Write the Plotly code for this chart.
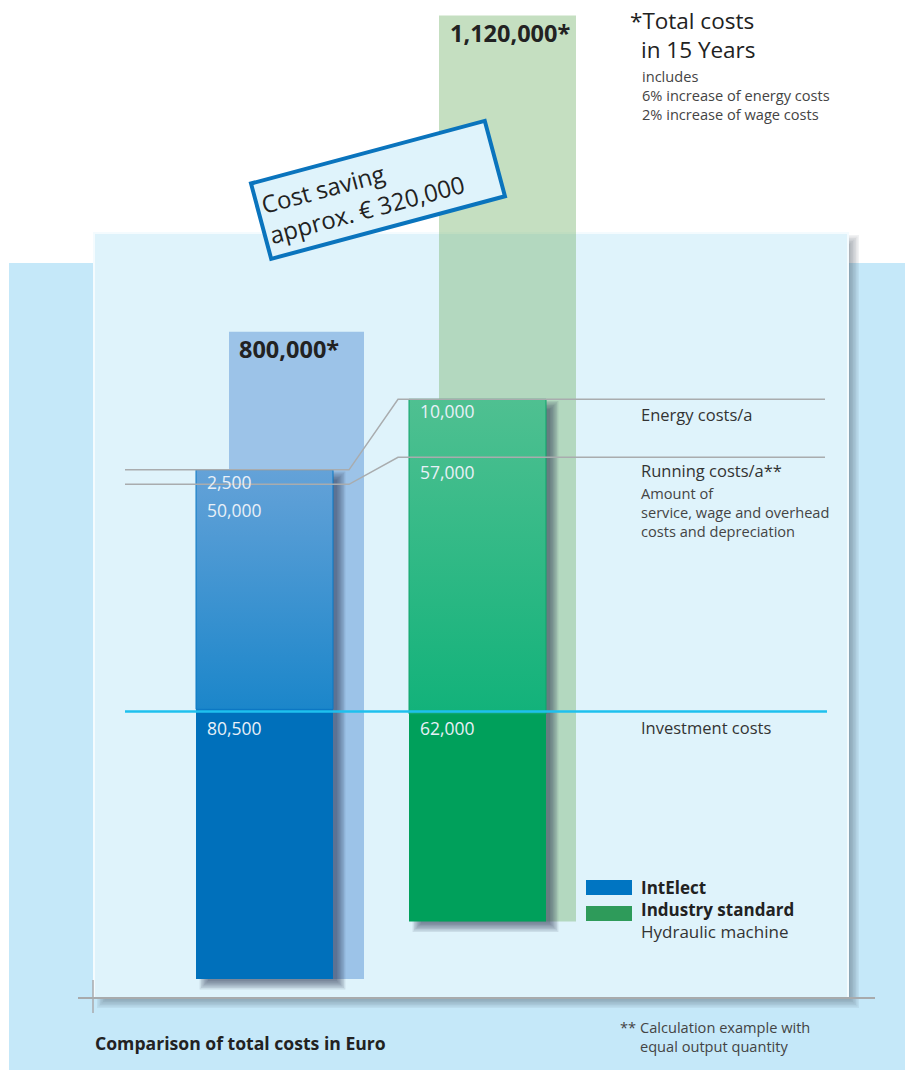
import plotly.graph_objects as go

# ---------------- data ----------------
categories = ["IntElect", "Industry standard"]
total_costs = [800000, 1120000]          # total costs in 15 years
energy_costs = [2500, 10000]             # energy costs per year
running_costs = [50000, 57000]           # running costs per year
investment_costs = [80500, 62000]        # investment costs

# ---------------- layout constants ----------------
W, H = 905, 1070
FONT = "Open Sans"
PX_TOTAL = 0.000809   # px per euro for the total bars
PX_INV = 0.00335      # px per euro for investment segment
PX_RUN = 0.0045       # px per euro for running segment
PX_ENERGY = 0.0058    # px per euro for energy segment

solid_x0 = [196, 409]
total_x0 = [228, 439]
bar_w = 137
base_py = [979, 921.5]

solid_low = ["#0070bb", "#00a05b"]
grad_top = ["#64a2d8", "#4fc091"]
grad_bottom = ["#1b86ca", "#12b27a"]
edge_col = ["#0a78c4", "#0ea36a"]
total_col = ["#9cc3e8", "rgba(122,182,113,0.44)"]
swatch_col = ["#0075c2", "#2e9b5a"]


def Y(py):
    return H - py


fig = go.Figure()

# ---------- light "total" bars (subplot 1) ----------
fig.add_trace(go.Bar(
    x=[x0 + bar_w / 2 for x0 in total_x0],
    y=[v * PX_TOTAL for v in total_costs],
    base=[Y(b) for b in base_py],
    width=[135, 137],
    marker=dict(color=total_col, line=dict(width=0)),
    hoverinfo="skip", showlegend=False, xaxis="x", yaxis="y",
))

# segment geometry (pixel coords, y down)
inv_top, run_top, en_top = [], [], []
for i in range(2):
    it = base_py[i] - investment_costs[i] * PX_INV
    rt = it - running_costs[i] * PX_RUN
    et = rt - energy_costs[i] * PX_ENERGY
    inv_top.append(it); run_top.append(rt); en_top.append(et)

# ---------- drop shadows of solid bars (subplot 1, above light bars) ----------
for i in range(2):
    x0, x1 = solid_x0[i] + 8, solid_x0[i] + bar_w + 8
    t, b = en_top[i] + 6, base_py[i] + 6
    for k in range(7):
        e = -4 + k * 1.4
        fig.add_trace(go.Scatter(
            x=[x0 - e, x1 + e, x1 + e, x0 - e, x0 - e],
            y=[Y(b + e), Y(b + e), Y(t - e), Y(t - e), Y(b + e)],
            mode="lines", fill="toself", line=dict(width=0),
            fillcolor="rgba(45,58,78,0.11)", hoverinfo="skip",
            showlegend=False, xaxis="x", yaxis="y",
        ))

# ---------- solid stacked bars (subplot 2) ----------
xc = [x0 + bar_w / 2 for x0 in solid_x0]
fig.add_trace(go.Bar(
    x=xc, y=[v * PX_INV for v in investment_costs], base=[Y(b) for b in base_py],
    width=bar_w, marker=dict(color=solid_low, line=dict(width=0)),
    name="Investment costs", hoverinfo="skip", showlegend=False, xaxis="x2", yaxis="y2",
))
fig.add_trace(go.Bar(
    x=xc, y=[v * PX_RUN for v in running_costs], base=[Y(b) for b in inv_top],
    width=bar_w, marker=dict(color=grad_bottom, line=dict(width=0)),
    name="Running costs/a", hoverinfo="skip", showlegend=False, xaxis="x2", yaxis="y2",
))
fig.add_trace(go.Bar(
    x=xc, y=[v * PX_ENERGY for v in energy_costs], base=[Y(b) for b in run_top],
    width=bar_w, marker=dict(color=grad_top, line=dict(width=0)),
    name="Energy costs/a", hoverinfo="skip", showlegend=False, xaxis="x2", yaxis="y2",
))
# gradient overlay on running + energy segments
for i in range(2):
    x0, x1 = solid_x0[i], solid_x0[i] + bar_w
    yb, yt = Y(inv_top[i]), Y(en_top[i])
    fig.add_trace(go.Scatter(
        x=[x0, x1, x1, x0, x0], y=[yb, yb, yt, yt, yb],
        mode="lines", fill="toself", line=dict(width=1, color=edge_col[i]),
        fillgradient=dict(type="vertical",
                          colorscale=[[0, grad_bottom[i]], [1, grad_top[i]]]),
        hoverinfo="skip", showlegend=False, xaxis="x2", yaxis="y2",
    ))

# ---------------- shapes ----------------
shapes = []
# outer light-blue background
shapes.append(dict(type="rect", xref="x", yref="y", x0=9, x1=W, y0=Y(263), y1=Y(H + 5),
                   fillcolor="#c5e8f9", line=dict(width=0), layer="below"))
# panel shadow
for k in range(7):
    e = -4 + k * 1.5
    shapes.append(dict(type="rect", xref="x", yref="y",
                       x0=95 + 7 - e, x1=847 + 7 + e, y0=Y(997 + 6 + e), y1=Y(234 + 6 - e),
                       fillcolor="rgba(60,70,85,0.07)", line=dict(width=0), layer="below"))
# panel (with thin white edge)
shapes.append(dict(type="rect", xref="x", yref="y", x0=93, x1=849, y0=Y(998), y1=Y(232),
                   fillcolor="#f4fbfe", line=dict(width=0), layer="below"))
shapes.append(dict(type="rect", xref="x", yref="y", x0=95, x1=847, y0=Y(997), y1=Y(234),
                   fillcolor="#dff3fb", line=dict(width=0), layer="below"))

# grey leader lines (energy top, energy/running boundary)
lx_a, lx_b = total_x0[0] + 135 - 14, solid_x0[1] - 11
for tb, tg in [(en_top[0], en_top[1]), (run_top[0], run_top[1])]:
    path = (f"M 125,{Y(tb)} L {lx_a},{Y(tb)} L {lx_b},{Y(tg)} L 825,{Y(tg)}")
    shapes.append(dict(type="path", xref="x", yref="y", path=path,
                       line=dict(color="#a9acae", width=1.5), layer="above"))

# cyan investment line
cyan_py = (inv_top[0] + inv_top[1]) / 2
shapes.append(dict(type="line", xref="x", yref="y", x0=125, x1=827, y0=Y(cyan_py), y1=Y(cyan_py),
                   line=dict(color="#1ec0ee", width=2.5), layer="above"))

# crosshair at panel bottom-left
shapes.append(dict(type="line", xref="x", yref="y", x0=78, x1=875, y0=Y(998), y1=Y(998),
                   line=dict(color="#a8aaac", width=2), layer="above"))
shapes.append(dict(type="line", xref="x", yref="y", x0=93, x1=93, y0=Y(980), y1=Y(1013),
                   line=dict(color="#a8aaac", width=1.5), layer="above"))

# legend swatches
for i, (t, b) in enumerate([(880, 895), (906, 921)]):
    shapes.append(dict(type="rect", xref="x", yref="y", x0=586, x1=632, y0=Y(b), y1=Y(t),
                       fillcolor=swatch_col[i], line=dict(width=0), layer="above"))

# ---------------- annotations ----------------
ann = []
DX = -2.5  # compensate annotation inner padding


def txt(x, py, s, size=16, color="#333333", bold=False, anchor="left"):
    if bold:
        s = f"<b>{s}</b>"
    ann.append(dict(x=x + DX, y=Y(py), xref="x", yref="y", text=s, showarrow=False,
                    xanchor=anchor, yanchor="middle", align="left",
                    font=dict(family=FONT, size=size, color=color)))


def fmt(v):
    return f"{v:,}"


# totals
for i in range(2):
    top_py = base_py[i] - total_costs[i] * PX_TOTAL
    txt(total_x0[i] + 11, top_py + 17.5, fmt(total_costs[i]) + "*", size=23.5, color="#222222", bold=True)

# values inside bars
val_col = "#e8f0f8"
for i in range(2):
    ey = en_top[i] + 12
    ry = max(run_top[i] + 15, ey + 28)
    txt(solid_x0[i] + 11, ey, fmt(energy_costs[i]), size=17.5, color=val_col)
    txt(solid_x0[i] + 11, ry, fmt(running_costs[i]), size=17.5, color=val_col)
    txt(solid_x0[i] + 11, cyan_py + 16, fmt(investment_costs[i]), size=17.5, color=val_col)
    if i == 1:
        txt(641, ey + 3, "Energy costs/a", size=16.5)
        txt(641, ry - 2, "Running costs/a**", size=16.5)
        txt(641, cyan_py + 16, "Investment costs", size=16.5)

SMALL = 14.6
txt(641, 511.5, "Amount of<br>service, wage and overhead<br>costs and depreciation",
    size=SMALL, color="#444444")

# top-right note
txt(630, 20, "*Total costs", size=22.5, color="#222222")
txt(641, 49, "in 15 Years", size=22.5, color="#222222")
txt(642, 94.5, "includes<br>6% increase of energy costs<br>2% increase of wage costs",
    size=SMALL, color="#444444")

# legend texts (one block)
txt(641, 909.5,
    f"<b>{categories[0]}</b><br><b>{categories[1]}</b><br>"
    "<span style='color:#333333'>Hydraulic machine</span>",
    size=17, color="#222222")

# footer
txt(95, 1043, "Comparison of total costs in Euro", size=17.6, color="#222222", bold=True)
txt(620, 1027, "**", size=SMALL, color="#444444")
txt(640, 1036, "Calculation example with<br>equal output quantity", size=SMALL, color="#444444")

# rotated cost-saving box
saving = total_costs[1] - total_costs[0]
ann.append(dict(x=377.5, y=Y(190), xref="x", yref="y",
                text=f"Cost saving<br>approx. € {saving:,}", showarrow=False,
                xanchor="center", yanchor="middle", textangle=-15, align="left",
                width=232, height=68, borderpad=3, borderwidth=4,
                bordercolor="#0a74bd", bgcolor="#dff3fb",
                font=dict(family=FONT, size=24, color="#222222")))

ax = dict(range=[0, W], visible=False, fixedrange=True)
ay = dict(range=[0, H], visible=False, fixedrange=True)
fig.update_layout(
    width=W, height=H, margin=dict(l=0, r=0, t=0, b=0),
    paper_bgcolor="white", plot_bgcolor="rgba(0,0,0,0)",
    barmode="overlay", showlegend=False,
    xaxis=dict(**ax, domain=[0, 1]), yaxis=dict(**ay, domain=[0, 1]),
    xaxis2=dict(**ax, overlaying="x"), yaxis2=dict(**ay, overlaying="y"),
    shapes=shapes, annotations=ann,
)

fig.write_html("out.html", config={"displayModeBar": False, "staticPlot": True},
               post_script="document.body.style.margin='0';document.body.style.overflow='hidden';")
